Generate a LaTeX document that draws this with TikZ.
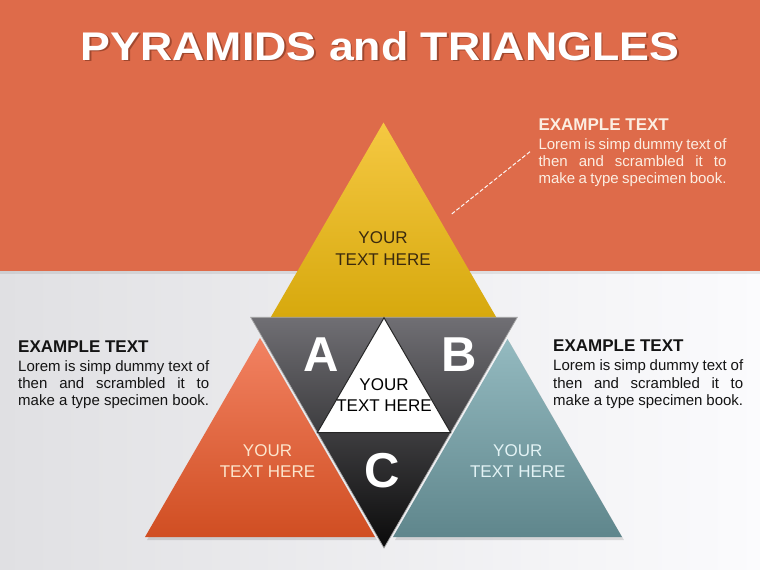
\documentclass[tikz,border=0pt]{standalone}
\usepackage{fontspec}
\setmainfont{Liberation Sans}
\definecolor{band}{RGB}{222,107,74}
\definecolor{bgL}{RGB}{224,224,227}
\definecolor{bgR}{RGB}{251,251,253}
\definecolor{yelT}{RGB}{245,200,66}
\definecolor{yelB}{RGB}{214,168,12}
\definecolor{oraT}{RGB}{242,130,98}
\definecolor{oraB}{RGB}{208,78,34}
\definecolor{tealT}{RGB}{148,186,192}
\definecolor{tealB}{RGB}{95,134,140}
\definecolor{darkT}{RGB}{112,111,116}
\definecolor{darkB}{RGB}{10,10,10}
\definecolor{yeltext}{RGB}{59,42,14}
\definecolor{oratext}{RGB}{252,229,204}
\definecolor{tealtext}{RGB}{227,243,245}
\definecolor{cream}{RGB}{252,238,226}
\definecolor{titleshadow}{RGB}{110,45,25}
\newcommand\exblock[2]{\parbox[t]{#1}{\leavevmode\color{#2}\fontsize{17}{19}\selectfont\bfseries EXAMPLE TEXT\par\vspace{1.6pt}\fontsize{15}{17.4}\selectfont\mdseries\makebox[#1][s]{Lorem is simp dummy text of}\par\makebox[#1][s]{then and scrambled it to}\par make a type specimen book.}}
\newcommand\twoline[3]{\parbox[t]{150pt}{\centering\fontsize{17}{#3}\selectfont #1\par #2}}
\tikzset{
  txt/.style={inner sep=0pt, anchor=base},
  letter/.style={inner sep=0pt, anchor=base, text=white, font=\fontsize{49}{49}\selectfont\bfseries},
  tri/.style={line join=miter}
}
\begin{document}
\begin{tikzpicture}[x=1pt,y=-1pt]
\useasboundingbox (0,0) rectangle (760,570);
% background
\shade[left color=bgL, right color=bgR] (0,268) rectangle (760,570);
\fill[black, opacity=0.08] (0,271) rectangle (760,274);
\fill[band] (0,0) rectangle (760,271);
% title
\node[txt, text=titleshadow, opacity=0.55, font=\fontsize{40}{40}\selectfont\bfseries] (titleshadow) at (381.8,61.8) {\scalebox{1.117}[1]{PYRAMIDS and TRIANGLES}};
\node[txt, text=white, font=\fontsize{40}{40}\selectfont\bfseries] (title) at (380,60) {\scalebox{1.117}[1]{PYRAMIDS and TRIANGLES}};
% yellow triangle
\shade[tri, top color=yelT, bottom color=yelB] (383.5,122.5) -- (499,322) -- (268,322) -- cycle;
% shadows of lower triangles
\fill[black, opacity=0.12] (147,540) -- (377,540) -- (262,341) -- cycle;
\fill[black, opacity=0.12] (395,540) -- (624,540) -- (509.5,342) -- cycle;
% orange and teal
\shade[tri, top color=oraT, bottom color=oraB] (145,537) -- (375,537) -- (260,338) -- cycle;
\shade[tri, top color=tealT, bottom color=tealB] (393,537) -- (622,537) -- (507.5,339) -- cycle;
% dark inverted triangle
\shade[tri, top color=darkT, bottom color=darkB] (250.7,317.3) -- (517.3,317.3) -- (384,548) -- cycle;
\draw[tri, gray!70, line width=0.7pt] (250.7,317.3) -- (517.3,317.3) -- (384,548) -- cycle;
% white middle triangle
\filldraw[tri, fill=white, draw=black!85, line width=1pt] (384,317.8) -- (450.7,432.7) -- (317.3,432.7) -- cycle;
% texts in triangles
\node[txt, text=yeltext] (ytext) at (383,243.3) {\twoline{YOUR}{TEXT HERE}{21.7}};
\node[txt, text=black] (wtext) at (384,390.7) {\twoline{YOUR}{TEXT HERE}{21}};
\node[txt, text=oratext] (otext) at (267.5,456.7) {\twoline{YOUR}{TEXT HERE}{21}};
\node[txt, text=tealtext] (ttext) at (517.8,456.7) {\twoline{YOUR}{TEXT HERE}{21}};
\node[letter] (A) at (321,371.7) {A};
\node[letter] (B) at (459.5,371.7) {B};
\node[letter] (C) at (382.5,487.5) {C};
% example text blocks
\node[inner sep=0pt, anchor=base west] (exleft) at (18,352) {\exblock{191pt}{black!92}};
\node[inner sep=0pt, anchor=base west] (exright) at (553,351.7) {\exblock{190pt}{black!92}};
\node[inner sep=0pt, anchor=base west] (extop) at (538.3,130) {\exblock{188pt}{cream}};
% dashed connector
\coordinate (d1) at (530,151.7);
\coordinate (d2) at (451.7,214);
\draw[white!95!band, dash pattern=on 4pt off 2pt, line width=1pt] (d1) -- (d2);
\end{tikzpicture}
\end{document}
